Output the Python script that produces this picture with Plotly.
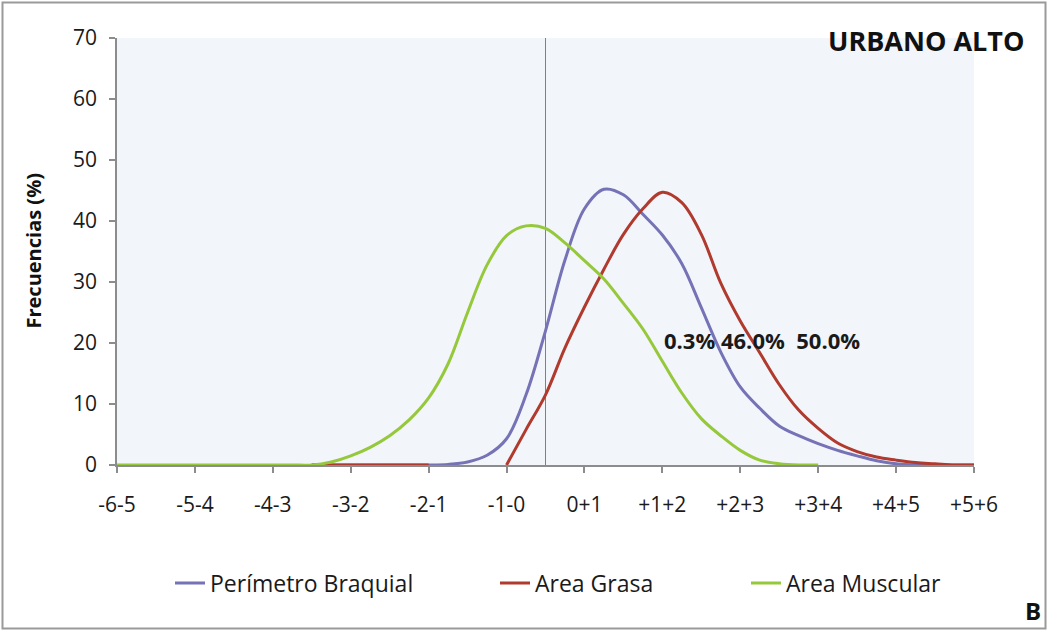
import plotly.graph_objects as go

# z-score grid (centre of each 1-SD interval is at x.5)
z = [-5.5, -5.25, -5.0, -4.75, -4.5, -4.25, -4.0, -3.75, -3.5, -3.25,
     -3.0, -2.75, -2.5, -2.25, -2.0, -1.75, -1.5, -1.25, -1.0, -0.75,
     -0.5, -0.25, 0.0, 0.25, 0.5, 0.75, 1.0, 1.25, 1.5, 1.75,
     2.0, 2.25, 2.5, 2.75, 3.0, 3.25, 3.5, 3.75, 4.0, 4.25,
     4.5, 4.75, 5.0, 5.25, 5.5]

perimetro_braquial = [None, None, None, None, None, None, None, None, None, None,
                      0, 0, 0, 0, 0, 0, 0, 0.1, 0.5, 1.6,
                      4.3, 11.5, 22.0, 33.6, 42.0, 45.2, 44.3, 41.1, 37.7, 33.0,
                      25.8, 18.5, 12.8, 9.3, 6.4, 4.8, 3.5, 2.4, 1.5, 0.7,
                      0.2, 0, 0, 0, 0]

area_grasa = [None, None, None, None, None, None, None, None, None, None,
              0, 0, 0, 0, 0, 0, 0, None, None, None,
              0, 5.8, 11.5, 19.2, 25.9, 32.1, 37.8, 42.0, 44.7, 43.0,
              37.8, 29.8, 23.6, 18.4, 13.2, 9.0, 6.0, 3.6, 2.2, 1.3,
              0.8, 0.4, 0.2, 0, 0]

area_muscular = [0, 0, 0, 0, 0, 0, 0, 0, 0, 0,
                 0, 0.5, 1.5, 2.9, 4.8, 7.4, 11.0, 16.6, 25.0, 32.8,
                 37.6, 39.2, 38.8, 36.4, 33.5, 30.5, 26.5, 22.3, 17.0, 11.8,
                 7.6, 4.8, 2.4, 0.8, 0.2, 0, 0, None, None, None,
                 None, None, None, None, None]

tick_vals = [-5.5, -4.5, -3.5, -2.5, -1.5, -0.5, 0.5, 1.5, 2.5, 3.5, 4.5, 5.5]
tick_text = ["-6-5", "-5-4", "-4-3", "-3-2", "-2-1", "-1-0",
             "0+1", "+1+2", "+2+3", "+3+4", "+4+5", "+5+6"]

series_names = ["Perímetro Braquial", "Area Grasa", "Area Muscular"]
series_colors = ["#7672B6", "#B03A2E", "#96C83C"]
series_values = [perimetro_braquial, area_grasa, area_muscular]

FONT = "Open Sans"
W, H = 1048, 631
ML, MR, MT, MB = 117, 74, 38, 166
PW, PH = W - ML - MR, H - MT - MB


def px_x(p):
    return (p - ML) / PW


def px_y(p):
    return (H - MB - p) / PH


fig = go.Figure()
legend_ids = ["legend", "legend2", "legend3"]
for name, col, vals, lg in zip(series_names, series_colors, series_values, legend_ids):
    fig.add_trace(go.Scatter(
        x=z, y=vals, name=name, mode="lines",
        line=dict(color=col, width=3, shape="spline", smoothing=1.0),
        connectgaps=False, legend=lg, showlegend=True,
    ))

legend_style = dict(orientation="h", xanchor="left", yanchor="middle",
                    y=px_y(583), bgcolor="rgba(0,0,0,0)", visible=True,
                    font=dict(family=FONT, size=23, color="#1a1a1a"))

fig.update_layout(
    width=W, height=H,
    margin=dict(l=ML, r=MR, t=MT, b=MB, autoexpand=False),
    paper_bgcolor="white",
    plot_bgcolor="#f2f5f9",
    showlegend=True,
    font=dict(family=FONT, size=21, color="#1a1a1a"),
    legend=dict(x=px_x(170), **legend_style),
    legend2=dict(x=px_x(495), **legend_style),
    legend3=dict(x=px_x(746), **legend_style),
    xaxis=dict(
        range=[-5.5, 5.5], tickmode="array", tickvals=tick_vals, ticktext=tick_text,
        showgrid=False, zeroline=False, showline=True, linecolor="#8c8c8c", linewidth=1.5,
        ticks="outside", ticklen=6, tickcolor="#8c8c8c", tickwidth=1.5,
        ticklabelstandoff=14,
        tickfont=dict(family=FONT, size=21, color="#1a1a1a"),
    ),
    yaxis=dict(
        range=[0, 70], dtick=10, showgrid=False, zeroline=False,
        showline=True, linecolor="#8c8c8c", linewidth=1.5,
        ticks="outside", ticklen=6, tickcolor="#8c8c8c", tickwidth=1.5,
        ticklabelstandoff=8,
        tickfont=dict(family=FONT, size=21, color="#1a1a1a"),
    ),
    shapes=[
        dict(type="line", xref="x", yref="paper", x0=0, x1=0, y0=0, y1=1,
             line=dict(color="#808080", width=1), layer="below"),
        dict(type="rect", xref="paper", yref="paper",
             x0=px_x(2.5), x1=px_x(1045.5), y0=px_y(628.5), y1=px_y(2.5),
             line=dict(color="#9a9a9a", width=2), fillcolor="rgba(0,0,0,0)"),
    ],
    annotations=[
        dict(text="<b>URBANO ALTO</b>", xref="paper", yref="paper",
             x=px_x(1026), y=px_y(40), xanchor="right", yanchor="middle",
             showarrow=False, font=dict(family=FONT, size=27, color="#111111")),
        dict(text="<b>Frecuencias (%)</b>", xref="paper", yref="paper",
             x=px_x(33), y=0.5, xanchor="center", yanchor="middle", textangle=-90,
             showarrow=False, font=dict(family=FONT, size=20, color="#111111")),
        dict(text="<b>0.3%\u00a046.0%\u00a0\u00a050.0%</b>", xref="x", yref="y",
             x=2.78, y=20.5, xanchor="center", yanchor="middle",
             showarrow=False, font=dict(family=FONT, size=22, color="#1a1a1a")),
        dict(text="<b>B</b>", xref="paper", yref="paper",
             x=px_x(1043), y=px_y(610), xanchor="right", yanchor="middle",
             showarrow=False, font=dict(family=FONT, size=24, color="#111111")),
    ],
)

fig.write_html(
    "out.html",
    config={"displayModeBar": False},
    post_script="document.body.style.margin='0';document.body.style.padding='0';",
)
